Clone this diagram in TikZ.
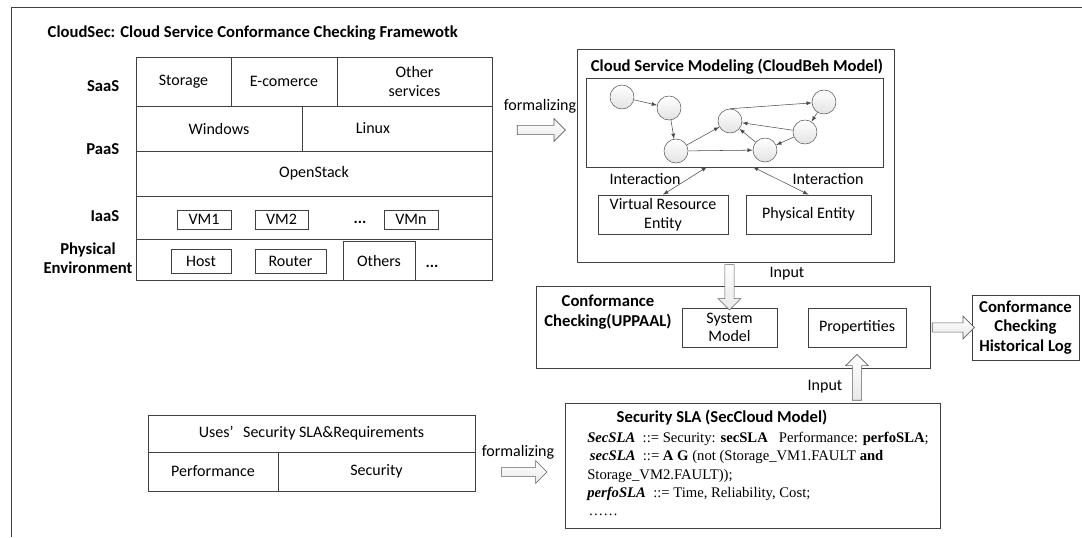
\documentclass[tikz,border=0pt]{standalone}
\usepackage{fontspec}
\setmainfont{Carlito}
\newfontfamily\slafont{Liberation Serif}
\usepackage{tikz}
\usetikzlibrary{calc, shapes.arrows, arrows}
\tikzset{>=latex}
\definecolor{linegray}{RGB}{65,65,65}
\tikzset{
  cell/.style={draw=linegray, line width=0.6pt, inner sep=0pt, align=center},
  sz/.style 2 args={minimum width=#1*0.75pt, minimum height=#2*0.75pt},
  state/.style={circle, draw=gray!70!black, line width=0.4pt, minimum size=18pt, inner sep=0pt, top color=white, bottom color=gray!22},
  edge/.style={-latex, draw=gray!60!black, line width=0.4pt},
  bigarrow/.style={single arrow, draw=gray!75!black, line width=0.5pt, top color=white, bottom color=gray!18, minimum width=17pt, single arrow head extend=5pt, single arrow tip angle=90, inner sep=3.2pt},
  layer/.style={font=\bfseries\fontsize{12.5}{14.5}\selectfont, align=center},
}

\begin{document}
\begin{tikzpicture}[x=0.75pt, y=-0.75pt, >=latex, font=\fontsize{12}{14}\selectfont]
    \useasboundingbox (0,0) rectangle (1082,537);

    % Frame
    \draw[linegray, line width=0.6pt] (11,537) -- (11,7) -- (1082,7);
    % Title
    \node[anchor=west, layer] (title) at (43,33) {CloudSec: Cloud Service Conformance Checking Framewotk};

    % SaaS
    \node[cell, sz={95}{49}] (storage) at (183.5,81.5) {Storage};
    \node[cell, sz={106}{49}] (ecom) at (284,81.5) {E-comerce};
    \node[cell, sz={155}{49}] (other) at (414.5,81.5) {Other\\services};
    % PaaS
    \node[cell, sz={166}{45}] (windows) at (219,128.5) {Windows};
    \node[cell, sz={190}{45}] (linux) at (397,128.5) {\hspace*{-36pt}Linux};
    \node[cell, sz={356}{45}] (openstack) at (314,173.5) {OpenStack};
    % IaaS
    \node[cell, sz={356}{43}] (iaas) at (314,217.5) {};
    \node[cell, sz={54}{19}] (vm1) at (204,219.5) {VM1};
    \node[cell, sz={53}{19}] (vm2) at (281.5,219.5) {VM2};
    \node (vmdots) at (360,222) {\textbf{...}};
    \node[cell, sz={54}{19}] (vmn) at (411,219.5) {VMn};
    % Physical
    \node[cell, sz={356}{41}] (phys) at (314,259.5) {};
    \node[cell, sz={60}{24}] (host) at (201,261) {Host};
    \node[cell, sz={71}{24}] (router) at (290.5,261) {Router};
    \node[cell, sz={72}{39}] (others) at (379,260.5) {Others};
    \node (physdots) at (432,266) {\textbf{...}};

    % Layer labels
    \node[layer, anchor=east] (saas) at (124,86) {SaaS};
    \node[layer, anchor=east] (paas) at (124,149) {PaaS};
    \node[layer, anchor=east] (iaasl) at (124,216) {IaaS};
    \node[layer] (physl) at (88,258) {Physical\\Environment};

    % Cloud service modeling
    \node[cell, sz={317}{213}] (csm) at (735.5,155.5) {};
    \node[layer] (csmt) at (737,67) {Cloud Service Modeling (CloudBeh Model)};
    \node[cell, sz={297}{89}] (graph) at (734.5,122.5) {};
    \node[state] (s1) at (622,97) {};
    \node[state] (s2) at (669,108) {};
    \node[state] (s3) at (676,151) {};
    \node[state] (s4) at (730,121) {};
    \node[state] (s5) at (765,150) {};
    \node[state] (s6) at (805,132) {};
    \node[state] (s7) at (824,102) {};
    \draw[edge] (s1) -- (s2);
    \draw[edge] (s2) -- (s3);
    \draw[edge] (s3) -- (s4);
    \draw[edge] (s3) -- (s5);
    \draw[edge] (s4.north) -- (s7);
    \draw[edge] (s7) -- (s6);
    \draw[edge] (s6) -- (s4);
    \draw[edge] (s5) -- (s4);
    \draw[edge] (s6) -- (s5);

    % Entities
    \node[cell, sz={130}{39}] (vr) at (663,214.5) {Virtual Resource\\Entity};
    \node[cell, sz={125}{39}] (pe) at (808.5,214.5) {Physical Entity};
    \coordinate (ia1) at (707,167);
    \coordinate (ia2) at (753,167);
    \draw[latex-latex, gray!60!black, line width=0.4pt] (ia1) -- (vr.north);
    \draw[latex-latex, gray!60!black, line width=0.4pt] (ia2) -- (pe.north);
    \node (int1) at (645,179) {Interaction};
    \node (int2) at (828,179) {Interaction};

    % Conformance checking
    \node[cell, sz={394}{82}] (cc) at (733,327) {};
    \node[layer] (cct) at (608,312) {Conformance\\Checking(UPPAAL)};
    \node[cell, sz={95}{39}] (sysm) at (729.5,327.5) {System\\Model};
    \node[cell, sz={98}{39}] (props) at (857,327.5) {Propertities};
    \node[cell, layer, sz={107}{65}] (log) at (1025.5,327.5) {Conformance\\Checking\\Historical Log};

    % Security SLA
    \node[cell, sz={375}{125}] (sla) at (752.5,465.5) {};
    \node[layer] (slat) at (722,418) {Security SLA (SecCloud Model)};
    \node[anchor=north west, align=left, inner sep=0pt, font=\slafont\fontsize{11}{13.7}\selectfont] (slatext) at (587,432) {%
      \textbf{\textit{SecSLA}}~ ::= Security: \textbf{secSLA}~~ Performance: \textbf{perfoSLA};\\
      \hspace*{2pt}\textbf{\textit{secSLA}}~ ::= \textbf{A G} (not (Storage\_VM1.FAULT \textbf{and}\\
      Storage\_VM2.FAULT));\\
      \textbf{\textit{perfoSLA}}~ ::= Time, Reliability, Cost;\\
      \hspace*{1pt}……};

    % Requirements
    \node[cell, sz={327}{37}] (uses) at (311.5,433.5) {Uses’\hspace{0.6em}Security SLA\&Requirements};
    \node[cell, sz={130}{39}] (perf) at (213,471.5) {Performance};
    \node[cell, sz={197}{39}] (sec) at (376.5,471.5) {Security};

    % Block arrows
    \node[bigarrow, minimum height=36pt] (f1) at (539,130) {};
    \node (f1t) at (540,106) {formalizing};
    \node[bigarrow, minimum height=34pt] (f2) at (522,472) {};
    \node (f2t) at (518,452) {formalizing};
    \node[bigarrow, minimum height=34pt, shape border rotate=270] (in1) at ($(csm.south -| sysm.north)!0.5!(sysm.north)$) {};
    \node (in1t) at (787,274) {Input};
    \node[bigarrow, minimum height=34.5pt, shape border rotate=90] (in2) at ($(sla.north -| props.south)+(0,-23)$) {};
    \node (in2t) at (825,387) {Input};
    \node[bigarrow, minimum height=31.5pt] (out) at ($(cc.east |- log.west)!0.5!(log.west)$) {};
\end{tikzpicture}
\end{document}
